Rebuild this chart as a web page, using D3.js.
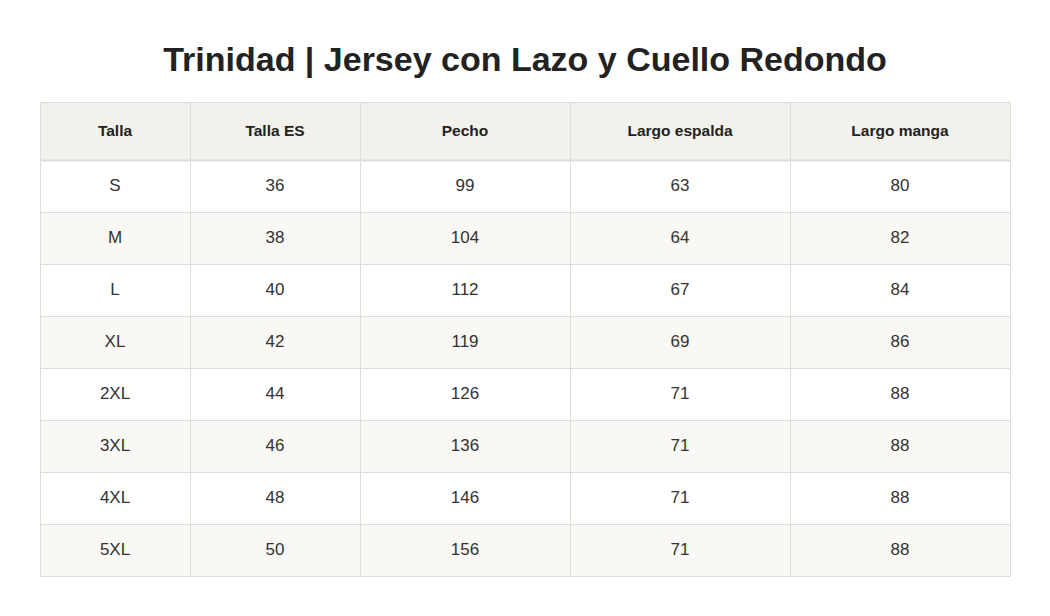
<!DOCTYPE html>
<html><head><meta charset="utf-8">
<script src="https://cdn.jsdelivr.net/npm/d3@7"></script>
<style>body{margin:0;background:#fff;font-family:"Liberation Sans",Arial,sans-serif}</style>
</head><body><svg id="c" width="1050" height="616"></svg>
<script>
const title = "Trinidad | Jersey con Lazo y Cuello Redondo";
const columns = ["Talla","Talla ES","Pecho","Largo espalda","Largo manga"];
const tallas = ["S","M","L","XL","2XL","3XL","4XL","5XL"];
const tallaES = [36,38,40,42,44,46,48,50];
const pecho = [99,104,112,119,126,136,146,156];
const largoEspalda = [63,64,67,69,71,71,71,71];
const largoManga = [80,82,84,86,88,88,88,88];
const colEdges = [40,190,360,570,790,1010];

const rows = tallas.map((t,i)=>[t,tallaES[i],pecho[i],largoEspalda[i],largoManga[i]]);
const svg = d3.select("#c");
svg.append("text").attr("x",525).attr("y",71).attr("text-anchor","middle")
  .attr("font-size",34).attr("font-weight","bold").attr("fill","#222").text(title);

const headerTop=102, headerH=58, rowH=52;
const y = d3.scaleBand().domain(d3.range(rows.length)).range([headerTop+headerH, headerTop+headerH+rowH*rows.length]);
const grid="#dddcd6";
svg.append("rect").attr("x",40).attr("y",headerTop).attr("width",970).attr("height",headerH).attr("fill","#f2f1ec");
rows.forEach((r,i)=>{
  svg.append("rect").attr("x",40).attr("y",y(i)).attr("width",970).attr("height",rowH)
    .attr("fill", i%2? "#f9f8f4":"#ffffff");
});
columns.forEach((c,j)=>{
  const cx=(colEdges[j]+colEdges[j+1])/2;
  svg.append("text").attr("x",cx).attr("y",headerTop+headerH/2+5).attr("text-anchor","middle")
    .attr("font-size",15.5).attr("font-weight","bold").attr("fill","#222").text(c);
  rows.forEach((r,i)=>{
    svg.append("text").attr("x",cx).attr("y",y(i)+rowH/2+5).attr("text-anchor","middle")
      .attr("font-size",17).attr("fill","#333").text(r[j]);
  });
});
const ys=[headerTop,headerTop+headerH].concat(rows.map((r,i)=>y(i)+rowH));
ys.forEach(v=>svg.append("line").attr("x1",40).attr("x2",1010).attr("y1",v+0.5).attr("y2",v+0.5).attr("stroke",grid).attr("stroke-width",v===headerTop+headerH?2:1));
colEdges.forEach(v=>svg.append("line").attr("x1",v+0.5).attr("x2",v+0.5).attr("y1",headerTop).attr("y2",ys[ys.length-1]+0.5).attr("stroke",grid));
</script></body></html>
